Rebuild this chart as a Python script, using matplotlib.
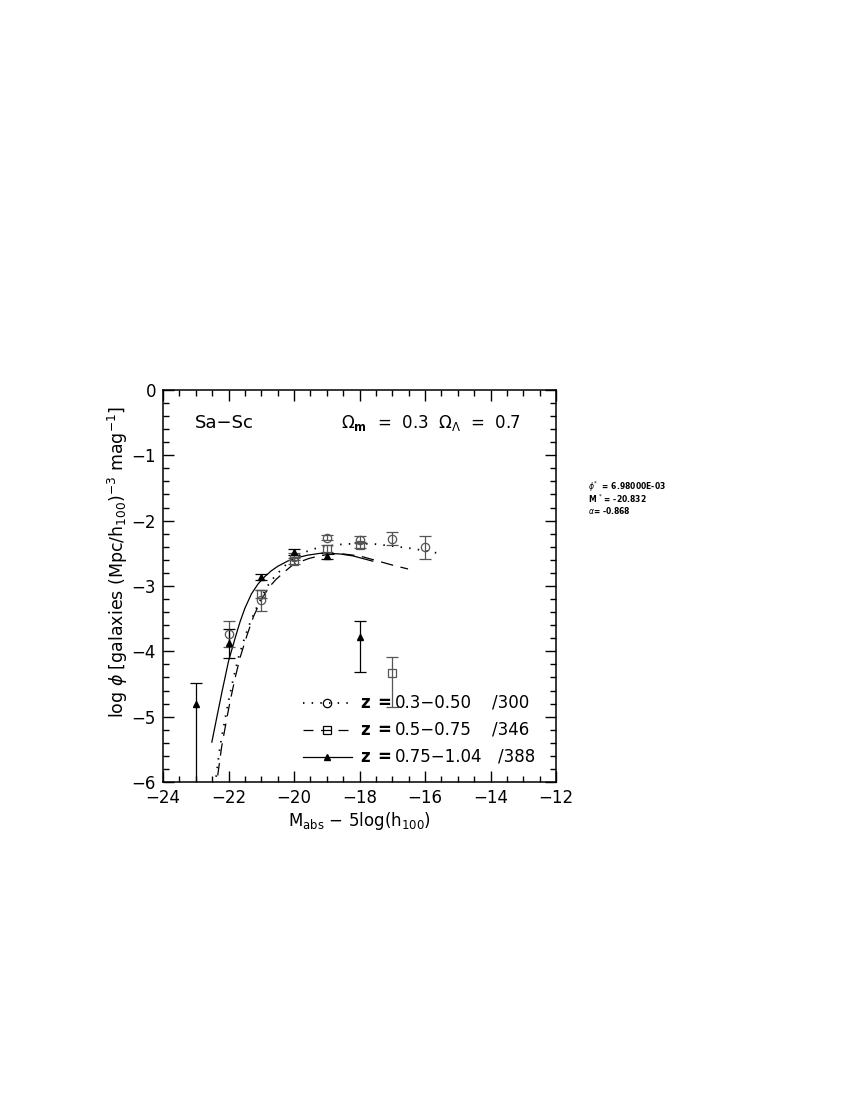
import matplotlib
matplotlib.use('Agg')
import matplotlib.pyplot as plt
from matplotlib.ticker import MultipleLocator

# data points: z = 0.3-0.50 (circles)
circ_x = [-22, -21, -20, -19, -18, -17, -16]
circ_y = [-3.73, -3.22, -2.55, -2.26, -2.29, -2.28, -2.41]
circ_err = [0.20, 0.16, 0.05, 0.04, 0.05, 0.10, 0.18]

# z = 0.5-0.75 (squares)
sq_x = [-21, -20, -19, -18, -17]
sq_y = [-3.12, -2.62, -2.43, -2.37, -4.33]
sq_err_lo = [0.06, 0.05, 0.05, 0.05, 0.52]
sq_err_hi = [0.06, 0.05, 0.05, 0.05, 0.24]

# z = 0.75-1.04 (triangles)
tri_x = [-23, -22, -21, -20, -19, -18]
tri_y = [-4.80, -3.88, -2.86, -2.48, -2.54, -3.78]
tri_err_lo = [1.50, 0.22, 0.05, 0.05, 0.05, 0.53]
tri_err_hi = [0.31, 0.22, 0.05, 0.05, 0.05, 0.25]

# fitted curves
dot_x = [-22.38, -22.26, -22.10, -22.0, -21.85, -21.70, -21.50, -21.34, -21.15, -20.95,
         -20.78, -20.60, -20.43, -20.2, -19.92, -19.6, -19.31, -19.0, -18.5, -18.0,
         -17.5, -17.0, -16.5, -16.0, -15.59]
dot_y = [-5.92, -5.46, -5.02, -4.76, -4.41, -4.10, -3.78, -3.56, -3.34, -3.13,
         -2.98, -2.86, -2.77, -2.65, -2.55, -2.47, -2.42, -2.39, -2.36, -2.35,
         -2.36, -2.39, -2.42, -2.46, -2.50]

dash_x = [-22.33, -22.21, -22.05, -21.95, -21.80, -21.65, -21.44, -21.24, -21.05, -20.88,
          -20.73, -20.55, -20.33, -20.07, -19.82, -19.55, -19.31, -19.0, -18.5, -18.0,
          -17.5, -17.0, -16.52]
dash_y = [-5.90, -5.46, -5.02, -4.76, -4.41, -4.10, -3.76, -3.47, -3.26, -3.11,
          -3.00, -2.90, -2.80, -2.69, -2.63, -2.58, -2.55, -2.52, -2.51, -2.54,
          -2.61, -2.68, -2.74]

sol_x = [-22.51, -22.35, -22.2, -22.0, -21.8, -21.65, -21.5, -21.3, -21.1, -20.9,
         -20.7, -20.5, -20.2, -20.0, -19.6, -19.2, -19.0, -18.6, -18.2, -17.9, -17.6]
sol_y = [-5.39, -4.99, -4.62, -4.15, -3.80, -3.55, -3.34, -3.12, -2.97, -2.86,
         -2.77, -2.70, -2.62, -2.58, -2.53, -2.50, -2.50, -2.51, -2.54, -2.58, -2.62]

legend_ranges = ['0.3\u22120.50', '0.5\u22120.75', '0.75\u22121.04']
legend_counts = ['/300', '/346', '/388']

plt.rcParams['font.family'] = ['DejaVu Sans']
plt.rcParams['mathtext.fontset'] = 'dejavusans'

fig = plt.figure(figsize=(8.5, 11), dpi=100)
ax = fig.add_axes([0.1918, 0.2891, 0.4624, 0.3564])

gray = '#555555'
ax.plot(dot_x, dot_y, color='k', lw=1.3, dashes=(0.8, 4))
ax.plot(dash_x, dash_y, color='k', lw=0.9, dashes=(10, 6))
ax.plot(sol_x, sol_y, color='k', lw=0.9)

ax.errorbar(circ_x, circ_y, yerr=circ_err, fmt='o', ms=6, mfc='none', mec=gray,
            ecolor=gray, elinewidth=0.9, capsize=4, capthick=0.9, mew=0.9)
ax.errorbar(sq_x, sq_y, yerr=[sq_err_lo, sq_err_hi], fmt='s', ms=6, mfc='none', mec=gray,
            ecolor=gray, elinewidth=0.9, capsize=4, capthick=0.9, mew=0.9)
ax.errorbar(tri_x, tri_y, yerr=[tri_err_lo, tri_err_hi], fmt='^', ms=4.5, color='k',
            ecolor='k', elinewidth=0.9, capsize=4, capthick=0.9)

ax.set_xlim(-24, -12)
ax.set_ylim(-6, 0)
ax.xaxis.set_major_locator(MultipleLocator(2))
ax.xaxis.set_minor_locator(MultipleLocator(0.5))
ax.yaxis.set_major_locator(MultipleLocator(1))
ax.yaxis.set_minor_locator(MultipleLocator(0.2))
ax.tick_params(which='both', direction='in', top=True, right=True, labelsize=12, width=1.0)
ax.tick_params(which='major', length=8, pad=5)
ax.tick_params(which='minor', length=4)
for s in ax.spines.values():
    s.set_linewidth(1.1)

ax.set_xlabel(r'M$_{\rm abs}$ $-$ 5log(h$_{100}$)', fontsize=12, labelpad=2)
ax.set_ylabel(r'log $\phi$ [galaxies (Mpc/h$_{100}$)$^{-3}$ mag$^{-1}$]', fontsize=12.5)
ax.yaxis.set_label_coords(-0.083, 0.56)

ax.text(0.081, 0.916, 'Sa\u2212Sc', transform=ax.transAxes, fontsize=13, va='center')
ax.text(0.453, 0.916, r'$\Omega_{\mathbf{m}}$  =  0.3  $\Omega_{\Lambda}$  =  0.7',
        transform=ax.transAxes, fontsize=12, va='center')

# legend drawn by hand
rows = [0.2015, 0.1327, 0.0638]
styles = [dict(dashes=(0.8, 4), lw=1.3), dict(dashes=(8, 6), lw=0.9), dict(lw=0.9)]
markers = [dict(marker='o', ms=6, mfc='none', mec='k', mew=0.9),
           dict(marker='s', ms=6, mfc='none', mec='k', mew=0.9),
           dict(marker='^', ms=4.5, color='k')]
for i, yy in enumerate(rows):
    ax.plot([0.356, 0.481], [yy, yy], color='k', transform=ax.transAxes, **styles[i])
    ax.plot([0.417], [yy], transform=ax.transAxes, ls='none', **markers[i])
    ax.text(0.501, yy, 'z', transform=ax.transAxes, fontsize=12, va='center', fontweight='bold')
    ax.text(0.545, yy, '=', transform=ax.transAxes, fontsize=12, va='center', fontweight='bold')
    ax.text(0.590, yy, legend_ranges[i], transform=ax.transAxes, fontsize=12, va='center')
    ax.text(0.837 if i < 2 else 0.853, yy, legend_counts[i], transform=ax.transAxes,
            fontsize=12, va='center')

# fit parameters at the side
fig.text(588 / 850, 1 - 487 / 1100, r'$\phi^{*}$  = 6.98000E-03', fontsize=5.5, fontweight='bold', va='center')
fig.text(588 / 850, 1 - 499 / 1100, r'M $^{*}$ = -20.832', fontsize=5.5, fontweight='bold', va='center')
fig.text(588 / 850, 1 - 511 / 1100, r'$\alpha$= -0.868', fontsize=5.5, fontweight='bold', va='center')

fig.savefig('out.png', dpi=100)
